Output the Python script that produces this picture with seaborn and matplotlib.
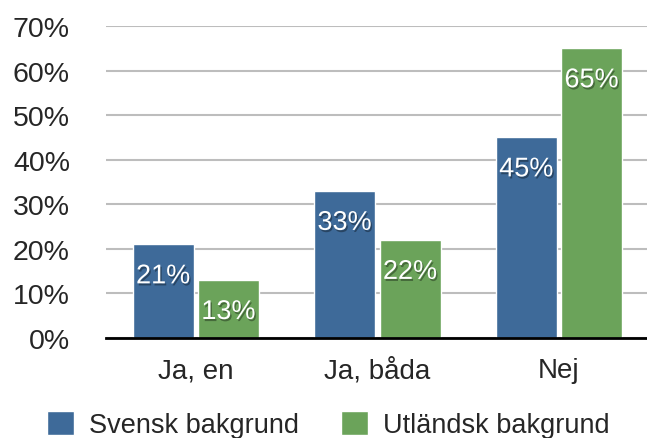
import pandas as pd
import numpy as np
import seaborn as sns
import matplotlib.pyplot as plt
import matplotlib.patheffects as pe
from matplotlib.ticker import FuncFormatter

categories = ["Ja, en", "Ja, båda", "Nej"]
groups = ["Svensk bakgrund", "Utländsk bakgrund"]
svensk = [21, 33, 45]
utlandsk = [13, 22, 65]
colors = ["#3e6a99", "#6ba35a"]

df = pd.DataFrame({
    "svar": categories * 2,
    "grupp": [groups[0]] * 3 + [groups[1]] * 3,
    "andel": svensk + utlandsk,
})

sns.set_style("white")
plt.rcParams["font.family"] = ["Liberation Sans", "DejaVu Sans"]

fig = plt.figure(figsize=(6.47, 4.39), dpi=100)
ax = fig.add_axes([106 / 647, 100 / 439, (647 - 106) / 647, 312 / 439])

sns.barplot(data=df, x="svar", y="andel", hue="grupp", palette=colors,
            width=0.72, gap=0.065, saturation=1, ax=ax)

ax.set_xlim(-0.496, 2.485)
ax.set_ylim(0, 70)
ax.set_yticks(np.arange(0, 71, 10))
ax.yaxis.set_major_formatter(FuncFormatter(lambda v, p: f"{v:.0f}%"))
ax.grid(axis="y", color="#bdbdbd", linewidth=1.5)
ax.set_axisbelow(True)
ax.set_xlabel("")
ax.set_ylabel("")
for s in ["top", "right", "left"]:
    ax.spines[s].set_visible(False)
ax.spines["bottom"].set_color("black")
ax.spines["bottom"].set_linewidth(2)
ax.tick_params(axis="y", length=0, pad=26, labelsize=20.5)
ax.tick_params(axis="x", length=0, pad=14, labelsize=20)

# value labels just under each bar top
shadow = [pe.SimplePatchShadow(offset=(1, -1.5), shadow_rgbFace="black", alpha=0.35), pe.Normal()]
for cont in ax.containers:
    for bar in cont:
        h = bar.get_height()
        ax.annotate(f"{h:.0f}%", (bar.get_x() + bar.get_width() / 2, h),
                    xytext=(0, -23), textcoords="offset points",
                    ha="center", va="center", color="white", fontsize=19.5,
                    path_effects=shadow)

sns.move_legend(ax, loc="center", bbox_to_anchor=(0.507, 0.031),
                bbox_transform=fig.transFigure, ncol=2, frameon=False, title=None,
                fontsize=19.5, handlelength=1.0, handleheight=1.0,
                handletextpad=0.55, columnspacing=1.55)

fig.savefig("out.png", dpi=100)
